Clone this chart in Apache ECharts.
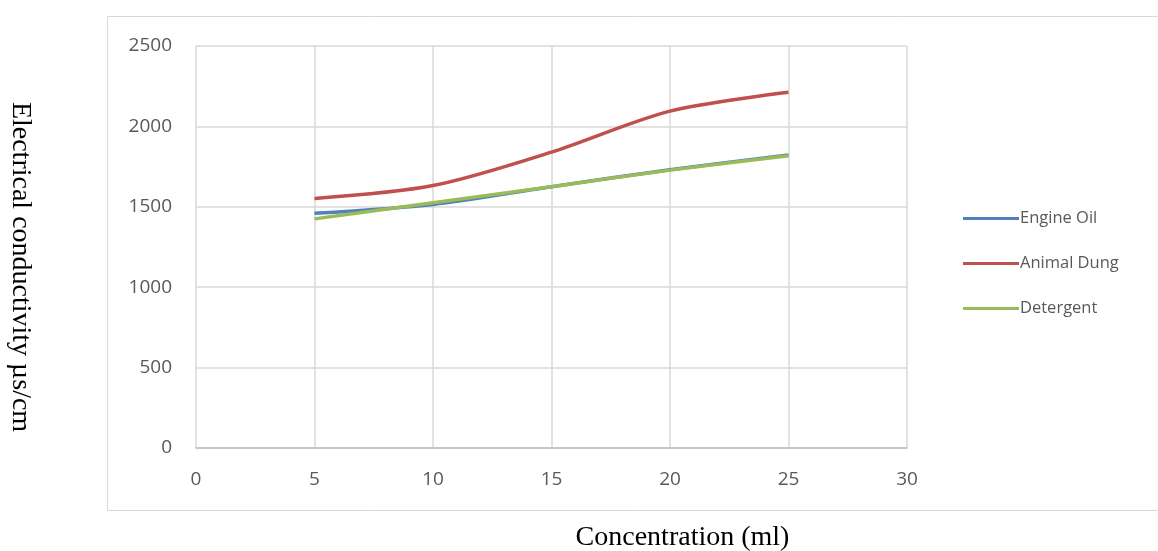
<!DOCTYPE html>
<html><head><meta charset="utf-8">
<script src="https://cdn.jsdelivr.net/npm/echarts@6/dist/echarts.min.js"></script>
<style>html,body{margin:0;padding:0;background:#fff}#c{width:1158px;height:551px}</style>
</head><body><div id="c"></div>
<script>
const concentration = [5, 10, 15, 20, 25];
const engineOil = [1460, 1515, 1625, 1730, 1822];
const animalDung = [1552, 1632, 1840, 2095, 2212];
const detergent = [1425, 1525, 1625, 1728, 1818];
const seriesNames = ['Engine Oil', 'Animal Dung', 'Detergent'];
const colors = ['#4f81bd', '#c0504d', '#9bbb59'];

const pair = arr => concentration.map((x, i) => [x, arr[i]]);
const chart = echarts.init(document.getElementById('c'));
const labelFont = {fontFamily: '"Open Sans", "Noto Sans", sans-serif', fontSize: 19, color: '#595959'};
chart.setOption({
  animation: false,
  color: colors,
  graphic: [{type: 'rect', shape: {x: 107.5, y: 16.5, width: 1060, height: 494}, style: {fill: 'none', stroke: '#d9d9d9', lineWidth: 1}, z: -1}],
  grid: {left: 196, top: 46, right: 251, bottom: 103, containLabel: false, outerBoundsMode: 'none'},
  legend: {
    orient: 'vertical', left: 958, top: 203, itemWidth: 56, itemHeight: 3, itemGap: 24,
    icon: 'rect', textStyle: {fontFamily: '"Open Sans", "Noto Sans", sans-serif', fontSize: 16.5, color: '#595959', padding: [0, 0, 0, -4], lineHeight: 21},
    data: seriesNames
  },
  xAxis: {
    type: 'value', min: 0, max: 30, interval: 5,
    name: 'Concentration (ml)', nameLocation: 'middle', nameGap: 76,
    nameTextStyle: {fontFamily: '"Liberation Serif", "Times New Roman", serif', fontSize: 28, color: '#000', padding: [0, 0, 0, 262]},
    axisLine: {lineStyle: {color: '#bfbfbf', width: 1.5}}, axisTick: {show: false},
    axisLabel: Object.assign({margin: 22, formatter: v => String(v)}, labelFont),
    splitLine: {lineStyle: {color: '#d9d9d9', width: 1.5}}
  },
  yAxis: {
    type: 'value', min: 0, max: 2500, interval: 500,
    name: 'Electrical conductivity µs/cm', nameLocation: 'middle', nameGap: 162, nameRotate: -90,
    nameTextStyle: {fontFamily: '"Liberation Serif", "Times New Roman", serif', fontSize: 28, color: '#000', padding: [0, 0, 0, 40]},
    axisLine: {show: false}, axisTick: {show: false},
    axisLabel: Object.assign({margin: 24, formatter: v => String(v)}, labelFont),
    splitLine: {lineStyle: {color: '#d9d9d9', width: 1.5}}
  },
  series: [
    {name: seriesNames[0], type: 'line', data: pair(engineOil), smooth: 0.3, symbol: 'none', lineStyle: {width: 3.5}},
    {name: seriesNames[1], type: 'line', data: pair(animalDung), smooth: 0.3, symbol: 'none', lineStyle: {width: 3.5}},
    {name: seriesNames[2], type: 'line', data: pair(detergent), smooth: 0.3, symbol: 'none', lineStyle: {width: 3.5}}
  ]
});
</script></body></html>
